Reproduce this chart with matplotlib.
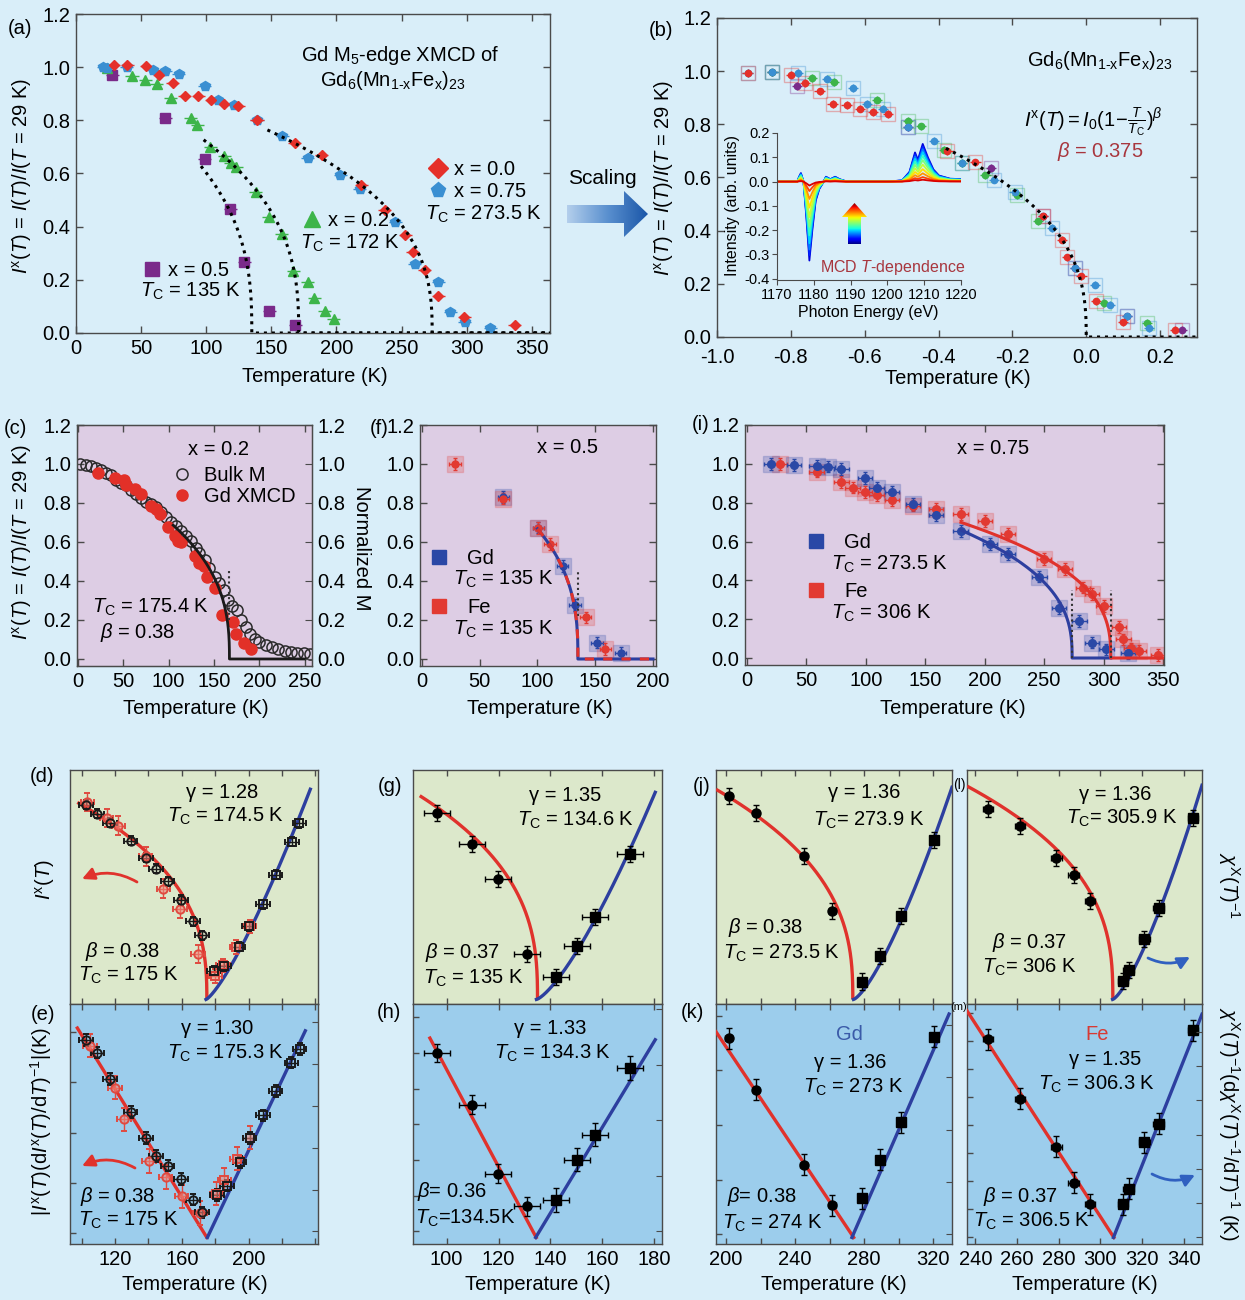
import numpy as np
import matplotlib
matplotlib.use("Agg")
import matplotlib.pyplot as plt
from matplotlib.lines import Line2D
from matplotlib.patches import Polygon
from matplotlib.colors import LinearSegmentedColormap

plt.rcParams['font.family'] = ['Liberation Sans', 'DejaVu Sans']
plt.rcParams['mathtext.fontset'] = 'custom'
plt.rcParams['mathtext.rm'] = 'Liberation Sans'
plt.rcParams['mathtext.it'] = 'Liberation Sans:italic'
plt.rcParams['mathtext.bf'] = 'Liberation Sans:bold'
plt.rcParams['mathtext.sf'] = 'Liberation Sans'
plt.rcParams['axes.unicode_minus'] = False
FS = 14.5
plt.rcParams['font.size'] = FS

# ======================= DATA =======================
# (a) Gd M5-edge XMCD, I^x(T) vs T
a_T_x00 = [29, 39.5, 54, 63.9, 74.3, 83.6, 94, 103.9, 113.7, 124.4, 139, 168, 188.8, 219, 237, 252.7, 258.7, 267.7, 278, 298, 337]
a_I_x00 = [1.01, 1.01, 1.006, 0.97, 0.94, 0.893, 0.89, 0.877, 0.862, 0.855, 0.80, 0.714, 0.668, 0.556, 0.464, 0.37, 0.305, 0.236, 0.14, 0.06, 0.03]
a_T_x075 = [21, 24, 39, 59, 68.5, 79, 98.7, 108.8, 121, 139, 158.4, 178, 203, 218, 245, 260, 278, 287.5, 298.7, 318]
a_I_x075 = [1.0, 0.995, 1.0, 0.99, 0.987, 0.975, 0.93, 0.877, 0.858, 0.80, 0.74, 0.657, 0.595, 0.543, 0.417, 0.26, 0.19, 0.078, 0.041, 0.019]
a_T_x02 = [24, 43, 53, 62, 72.6, 88, 93, 103, 113.7, 119, 123, 138, 148, 158, 167, 178, 183, 191, 198]
a_I_x02 = [0.995, 0.965, 0.95, 0.936, 0.883, 0.808, 0.783, 0.70, 0.664, 0.64, 0.623, 0.529, 0.436, 0.372, 0.232, 0.19, 0.13, 0.081, 0.053]
a_T_x05 = [28, 68.5, 98.7, 118.4, 129.3, 148.5, 168.5]
a_I_x05 = [0.971, 0.81, 0.655, 0.466, 0.267, 0.081, 0.031]
# power-law fits (x=0.5, x=0.2, x=0.0/0.75)
a_fit_T0 = [96, 98, 147]
a_fit_Tc = [135, 171, 273.5]
a_fit_I0 = [1.0, 1.0, 1.02]
a_fit_beta = 0.375
a_xticks = [0, 50, 100, 150, 200, 250, 300, 350]
a_yticks = [0.0, 0.2, 0.4, 0.6, 0.8, 1.0, 1.2]

# (b) scaled data vs reduced temperature
b_t_red = [-0.917, -0.80, -0.761, -0.722, -0.687, -0.649, -0.613, -0.577, -0.537, -0.376, -0.30, -0.117, -0.066, -0.052, -0.013, 0.027, 0.10, 0.241]
b_I_red = [0.993, 0.987, 0.955, 0.924, 0.876, 0.873, 0.859, 0.846, 0.839, 0.70, 0.657, 0.454, 0.366, 0.30, 0.228, 0.134, 0.055, 0.028]
b_t_blue = [-0.917, -0.85, -0.78, -0.702, -0.631, -0.594, -0.551, -0.483, -0.412, -0.336, -0.25, -0.194, -0.093, -0.03, 0.023, 0.064, 0.111, 0.17]
b_I_blue = [0.993, 0.996, 0.993, 0.972, 0.937, 0.877, 0.859, 0.789, 0.739, 0.655, 0.592, 0.544, 0.41, 0.26, 0.197, 0.122, 0.078, 0.034]
b_t_green = [-0.85, -0.742, -0.683, -0.566, -0.483, -0.448, -0.385, -0.336, -0.273, -0.188, -0.131, 0.049, 0.164]
b_I_green = [0.996, 0.974, 0.959, 0.893, 0.814, 0.792, 0.705, 0.655, 0.608, 0.535, 0.435, 0.128, 0.053]
b_t_purple = [-0.85, -0.784, -0.483, -0.258, -0.117, -0.03, 0.111, 0.259]
b_I_purple = [0.996, 0.945, 0.789, 0.636, 0.454, 0.26, 0.078, 0.028]
b_fit_t0 = -0.38
b_fit_I0 = 1.02
b_fit_beta = 0.375
b_xticks = [-1.0, -0.8, -0.6, -0.4, -0.2, 0.0, 0.2]

# (b) inset: MCD spectrum (lowest T) and relative amplitudes of T-dependent spectra
sp_E = [1170, 1175.5, 1176.0, 1176.5, 1177.2, 1178.0, 1178.8, 1179.6, 1180.5, 1181.5, 1182.5, 1183.3, 1184.5, 1185.8, 1187.0, 1189.0, 1200.0, 1204.0, 1206.0, 1207.5, 1208.3, 1209.6, 1211.0, 1212.5, 1214.0, 1217.0, 1220.0]
sp_I = [0, 0, 0.02, 0.035, 0.0, -0.15, -0.325, -0.2, -0.08, -0.03, -0.005, 0.02, 0.01, 0.02, 0.01, 0, 0, 0.005, 0.04, 0.12, 0.09, 0.155, 0.10, 0.05, 0.025, 0.012, 0.01]
sp_amp = [1.0, 0.93, 0.86, 0.78, 0.68, 0.57, 0.45, 0.33, 0.22, 0.12, 0.05]
sp_xticks = [1170, 1180, 1190, 1200, 1210, 1220]
sp_yticks = [-0.4, -0.3, -0.2, -0.1, 0.0, 0.1, 0.2]

# (c) x = 0.2 : bulk M and Gd XMCD
c_T_bulk = [2, 8.5, 14.7, 20, 25.7, 31, 36.8, 42, 48, 53, 59, 64, 70, 75, 81, 86, 92, 97, 103, 108, 114, 119.5, 125, 130.5, 134, 140, 144.5, 150.7, 156, 160.7, 165.4, 170, 175, 180, 185, 190, 195, 200, 207, 214, 221, 228, 235, 242, 249, 256]
c_M_bulk = [1.0, 0.997, 0.988, 0.98, 0.97, 0.953, 0.944, 0.92, 0.904, 0.89, 0.866, 0.845, 0.828, 0.805, 0.797, 0.78, 0.753, 0.727, 0.704, 0.683, 0.657, 0.631, 0.605, 0.57, 0.541, 0.51, 0.466, 0.422, 0.388, 0.353, 0.30, 0.27, 0.25, 0.20, 0.165, 0.13, 0.10, 0.085, 0.07, 0.06, 0.05, 0.04, 0.035, 0.032, 0.03, 0.028]
c_T_xmcd = [22, 40.4, 50.4, 52.6, 62.5, 70, 81, 85.7, 90, 99, 106.6, 110.3, 114, 128.7, 134, 138.6, 142, 150.7, 159, 171, 174.6, 183, 191]
c_I_xmcd = [0.953, 0.93, 0.918, 0.892, 0.87, 0.845, 0.783, 0.77, 0.744, 0.675, 0.631, 0.605, 0.60, 0.527, 0.492, 0.475, 0.423, 0.362, 0.223, 0.188, 0.127, 0.083, 0.052]
c_fit = dict(T0=105, Tc=167, I0=1.0, beta=0.38, Tmax=250)
c_xticks = [0, 50, 100, 150, 200, 250]

# (f) x = 0.5 : Gd and Fe
f_T_gd = [70.5, 100.7, 121.7, 132.4, 151.7, 172]
f_I_gd = [0.832, 0.674, 0.476, 0.276, 0.084, 0.03]
f_T_fe = [28.8, 70.5, 100.7, 110.8, 141.6, 158.8]
f_I_fe = [1.0, 0.823, 0.67, 0.589, 0.213, 0.052]
f_fit = dict(T0=100, Tc=135, I0=1.1, beta=0.37, Tmax=200)
f_xticks = [0, 50, 100, 150, 200]

# (i) x = 0.75 : Gd and Fe
i_T_gd = [20.3, 39.4, 58.5, 68.2, 79.4, 99.4, 109, 122, 139.4, 159, 179.7, 204.5, 219.7, 246, 262.7, 279.7, 290, 302.4, 320.6]
i_I_gd = [1.0, 0.995, 0.99, 0.986, 0.974, 0.928, 0.876, 0.855, 0.794, 0.738, 0.654, 0.588, 0.537, 0.419, 0.258, 0.192, 0.079, 0.044, 0.026]
i_T_fe = [27.9, 58.5, 79.4, 88.8, 99.4, 109, 122, 139.4, 159, 179.7, 200, 219.7, 250, 267.3, 282.4, 290, 300, 313, 316.7, 323.3, 330, 345.5]
i_I_fe = [1.0, 0.96, 0.907, 0.878, 0.855, 0.838, 0.815, 0.785, 0.768, 0.742, 0.707, 0.64, 0.511, 0.457, 0.363, 0.328, 0.267, 0.16, 0.096, 0.049, 0.035, 0.014]
i_fit_gd = dict(T0=180, Tc=273.5, I0=0.99, beta=0.38, Tmax=306)
i_fit_fe = dict(T0=180, Tc=306, I0=0.97, beta=0.37, Tmax=350)
i_xticks = [0, 50, 100, 150, 200, 250, 300, 350]
cfi_yticks = [0.0, 0.2, 0.4, 0.6, 0.8, 1.0, 1.2]

# (d) x = 0.2 : I^x(T) (circles) and chi^-1 (squares), arbitrary units
d_T_bc = [102.6, 109.4, 117, 129.4, 138.6, 144.6, 151.6, 159.6, 166.6, 172]
d_y_bc = [0.849, 0.81, 0.771, 0.691, 0.617, 0.569, 0.514, 0.433, 0.34, 0.28]
d_T_rc = [103.4, 115, 122, 138.4, 149, 159, 169.6]
d_y_rc = [0.861, 0.79, 0.758, 0.623, 0.483, 0.396, 0.199]
d_T_bs = [179, 185.4, 194, 200, 208.6, 216.2, 226, 230.4]
d_y_bs = [0.126, 0.145, 0.229, 0.318, 0.414, 0.544, 0.687, 0.768]
d_T_rs = [180, 184.6, 192.6, 200.6]
d_y_rs = [0.103, 0.148, 0.229, 0.318]
# (e) Kouvel-Fisher, x = 0.2
e_T_bc = [102.6, 109.4, 117, 129.4, 138.6, 144.6, 151.6, 159.6, 166.6, 172]
e_y_bc = [0.847, 0.792, 0.68, 0.537, 0.427, 0.348, 0.308, 0.251, 0.162, 0.107]
e_T_rc = [105, 120, 125.4, 140.4, 150.4, 160, 171]
e_y_rc = [0.821, 0.642, 0.506, 0.327, 0.259, 0.176, 0.105]
e_T_bs = [181, 187, 194.6, 200.6, 208.6, 216.2, 225.6, 230.6]
e_y_bs = [0.183, 0.222, 0.322, 0.427, 0.523, 0.627, 0.749, 0.807]
e_T_rs = [180.6, 185.4, 193, 200.6]
e_y_rs = [0.188, 0.248, 0.337, 0.427]
# (g)/(h) x = 0.5
g_T_c = [96.5, 109.9, 119.9, 131.1]
g_y_c = [0.812, 0.679, 0.523, 0.199]
g_T_s = [142.2, 150.1, 157.2, 170.4]
g_y_s = [0.099, 0.231, 0.358, 0.635]
h_T_c = [96.5, 109.9, 119.9, 131.1]
h_y_c = [0.79, 0.569, 0.273, 0.133]
h_T_s = [142.2, 150.1, 157.2, 170.4]
h_y_s = [0.161, 0.333, 0.44, 0.726]
# (j)/(k) x = 0.75, Gd
j_T_c = [201.7, 217.4, 245.1, 261.7]
j_y_c = [0.887, 0.813, 0.626, 0.387]
j_T_s = [278.9, 289.5, 301.7, 320.4]
j_y_s = [0.078, 0.188, 0.365, 0.696]
k_T_c = [201.7, 217.4, 245.1, 261.7]
k_y_c = [0.853, 0.632, 0.311, 0.137]
k_T_s = [278.9, 289.5, 301.7, 320.4]
k_y_s = [0.169, 0.332, 0.494, 0.86]
# (l)/(m) x = 0.75, Fe
l_T_c = [246.1, 261.3, 278.9, 287.2, 294.9]
l_y_c = [0.831, 0.754, 0.615, 0.544, 0.431]
l_T_s = [310.9, 313.6, 321.1, 328, 344.5]
l_y_s = [0.081, 0.129, 0.265, 0.399, 0.791]
m_T_c = [246.1, 261.3, 278.9, 287.2, 294.9]
m_y_c = [0.848, 0.594, 0.389, 0.235, 0.142]
m_T_s = [310.9, 313.6, 321.1, 328, 344.5]
m_y_s = [0.142, 0.208, 0.408, 0.487, 0.887]

# fit parameters for lower panels: (T0, Tc, beta, A) power law / (Tc, gamma, B, Tend)
d_fit_beta = (97.4, 175.0, 0.38, 1.17); d_fit_gamma = (174.5, 1.28, 3.41, 237.0)
g_fit_beta = (89.7, 135.0, 0.37, 1.33); g_fit_gamma = (134.6, 1.35, 3.88, 180.3)
j_fit_beta = (194.2, 273.5, 0.38, 1.466); j_fit_gamma = (273.9, 1.36, 7.8, 331.0)
l_fit_beta = (236.0, 306.0, 0.37, 1.605); l_fit_gamma = (305.9, 1.36, 13.5, 348.8)
# Kouvel-Fisher lines: (T0, Tc, slope) below / (Tc, slope, Tend) above
e_kf_lo = (97.4, 175.0, 0.01156); e_kf_hi = (175.3, 0.01508, 234.0)
h_kf_lo = (93.6, 134.5, 0.02088); h_kf_hi = (134.3, 0.01841, 180.3)
k_kf_lo = (194.2, 274.0, 0.01104); k_kf_hi = (273.0, 0.0170, 329.3)
m_kf_lo = (236.0, 306.5, 0.01377); m_kf_hi = (306.3, 0.0225, 348.8)

# ======================= STYLE =======================
BG = '#d9eef9'
PURPLE_BG = '#ddcde4'
GREEN_BG = '#dce8cb'
BLUE_BG = '#9ccdec'
RED = '#e5302a'
BLUE_L = '#3a8fd2'
GREEN = '#3db54a'
PURP = '#7a2a8a'
GD_BLUE = '#2a48a6'
FE_RED = '#e23a32'
LINE_RED = '#e0322c'
LINE_BLUE = '#2d3f9f'
SPINE = '#4a4a4a'

W, H = 1245, 1300
fig = plt.figure(figsize=(W / 100, H / 100), dpi=100)
fig.patch.set_facecolor(BG)


def rect(l, t, r, b):
    return [l / W, 1 - b / H, (r - l) / W, (b - t) / H]


def crit_curve(T0, Tc, I0, beta, Tmax):
    dT = (Tc - T0) * np.geomspace(1, 1e-7, 500)
    T = np.concatenate([Tc - dT, [Tc, Tmax]])
    I = np.concatenate([I0 * (dT / Tc) ** beta, [0.0, 0.0]])
    return T, I


def style_ax(ax, fc='none', length=5):
    ax.set_facecolor(fc)
    for s in ax.spines.values():
        s.set_color(SPINE)
        s.set_linewidth(1.0)
    ax.tick_params(direction='in', top=True, right=True, length=length,
                   width=1, color=SPINE, labelsize=FS, pad=4)


# ----------------------- (a) -----------------------
ax = fig.add_axes(rect(76, 14, 550, 333))
style_ax(ax)
ax.set_xlim(0, 364)
ax.set_ylim(0, 1.2)
ax.set_xticks(a_xticks)
ax.set_yticks(a_yticks)
ax.set_yticklabels([f'{v:.1f}' for v in a_yticks])
series_a = [(a_T_x05, a_I_x05, PURP, 's', 6.5), (a_T_x02, a_I_x02, GREEN, '^', 6.5),
            (a_T_x075, a_I_x075, BLUE_L, 'p', 7), (a_T_x00, a_I_x00, RED, 'D', 5.5)]
for T, I, c, m, ms in series_a:
    ax.errorbar(T, I, xerr=5, yerr=0.012, fmt=m, color=c, ms=ms, mec=c,
                elinewidth=1.0, capsize=0, zorder=3)
for T0, Tc, I0 in zip(a_fit_T0, a_fit_Tc, a_fit_I0):
    Tf, If = crit_curve(T0, Tc, I0, a_fit_beta, 364)
    ax.plot(Tf, If, ls=(0, (1, 1.6)), color='black', lw=2.2, zorder=4)
h00 = Line2D([], [], marker='D', color=RED, ls='none', ms=10)
h075 = Line2D([], [], marker='p', color=BLUE_L, ls='none', ms=11)
h02 = Line2D([], [], marker='^', color=GREEN, ls='none', ms=11)
h05 = Line2D([], [], marker='s', color=PURP, ls='none', ms=10)
lkw = dict(frameon=False, handlelength=0.9, handletextpad=0.35, borderpad=0,
           borderaxespad=0, labelspacing=0.12, fontsize=FS, loc='center left')
l1 = ax.legend([h00, h075], ['x = 0.0', 'x = 0.75'], bbox_to_anchor=(0.744, 0.478), **lkw)
ax.add_artist(l1)
l2 = ax.legend([h02], ['x = 0.2'], bbox_to_anchor=(0.478, 0.354), **lkw)
ax.add_artist(l2)
l3 = ax.legend([h05], ['x = 0.5'], bbox_to_anchor=(0.142, 0.197), **lkw)
ax.text(0.736, 0.373, r'$T_{\mathrm{C}}$ = 273.5 K', transform=ax.transAxes, va='center', ha='left')
ax.text(0.473, 0.282, r'$T_{\mathrm{C}}$ = 172 K', transform=ax.transAxes, va='center', ha='left')
ax.text(0.135, 0.129, r'$T_{\mathrm{C}}$ = 135 K', transform=ax.transAxes, va='center', ha='left')
ax.text(0.684, 0.871, r'Gd M$_5$-edge XMCD of', transform=ax.transAxes, va='center', ha='center')
ax.text(0.669, 0.793, r'Gd$_6$(Mn$_{\mathrm{1\text{-}x}}$Fe$_{\mathrm{x}}$)$_{23}$', transform=ax.transAxes, va='center', ha='center')

# ----------------------- (b) -----------------------
ax = fig.add_axes(rect(717, 18, 1197, 337))
style_ax(ax)
ax.set_xlim(-1.0, 0.3)
ax.set_ylim(0, 1.2)
ax.set_xticks(b_xticks)
ax.set_xticklabels([f'{v:.1f}' for v in b_xticks])
ax.tick_params(axis='x', pad=8)
ax.set_yticks(a_yticks)
ax.set_yticklabels([f'{v:.1f}' for v in a_yticks])
for t, I, c in [(b_t_purple, b_I_purple, PURP), (b_t_green, b_I_green, GREEN),
                (b_t_blue, b_I_blue, BLUE_L), (b_t_red, b_I_red, RED)]:
    ax.plot(t, I, ls='none', marker='s', ms=10, mfc='none', mec=c, mew=1.0, alpha=0.35, zorder=2)
    ax.errorbar(t, I, xerr=0.014, yerr=0.014, fmt='o', color=c, ms=4.5, elinewidth=1.0, capsize=0, zorder=3)
tb = b_fit_t0 * np.geomspace(1, 1e-7, 500)
ax.plot(np.concatenate([tb, [0, 0.3]]),
        np.concatenate([b_fit_I0 * (-tb) ** b_fit_beta, [0, 0]]),
        ls=(0, (1, 1.6)), color='black', lw=2.2, zorder=4)
ax.text(0.798, 0.868, r'Gd$_6$(Mn$_{\mathrm{1\text{-}x}}$Fe$_{\mathrm{x}}$)$_{23}$', transform=ax.transAxes, va='center', ha='center')
ax.text(0.783, 0.674, r'$I^{\mathrm{x}}(T) = I_0(1\!-\!\frac{T}{T_{\mathrm{C}}})^{\beta}$', transform=ax.transAxes, va='center', ha='center')
ax.text(0.798, 0.58, r'$\beta$ = 0.375', transform=ax.transAxes, va='center', ha='center', color='#a8363e')

# inset
axi = fig.add_axes(rect(777, 133, 961, 280))
axi.set_facecolor('none')
for s in ['top', 'right']:
    axi.spines[s].set_visible(False)
for s in ['left', 'bottom']:
    axi.spines[s].set_color(SPINE)
axi.set_xlim(1170, 1220)
axi.set_ylim(-0.405, 0.2)
axi.set_xticks(sp_xticks)
axi.set_yticks(sp_yticks)
axi.set_yticklabels([f'{v:.1f}' for v in sp_yticks])
axi.tick_params(direction='out', length=3.5, labelsize=10.5, pad=2, color=SPINE)
sp_cols = plt.cm.jet(np.linspace(0.08, 0.92, len(sp_amp)))
for amp, col in zip(sp_amp, sp_cols):
    axi.plot(sp_E, np.array(sp_I) * amp, color=col, lw=1.3)
axi.text(0.63, 0.082, r'MCD $T$-dependence', transform=axi.transAxes, va='center', ha='center',
         color='#a8363e', fontsize=11.5)

# ----------------------- (c) -----------------------
ax = fig.add_axes(rect(77, 425, 312, 666))
style_ax(ax, PURPLE_BG)
ax.set_xlim(-1, 258)
ax.set_ylim(-0.036, 1.2)
ax.set_xticks(c_xticks)
ax.set_yticks(cfi_yticks)
ax.set_yticklabels([f'{v:.1f}' for v in cfi_yticks])
ax.tick_params(right=False)
hb, = ax.plot(c_T_bulk, c_M_bulk, ls='none', marker='o', ms=8, mfc='none', mec='#2a2a2a', mew=1.1, zorder=3)
hx, = ax.plot(c_T_xmcd, c_I_xmcd, ls='none', marker='o', ms=8, mfc='#e23028', mec='#e23028', zorder=3)
Tf, If = crit_curve(**c_fit)
ax.plot(Tf, If, color='#1a1a1a', lw=2.0, zorder=4)
ax.vlines(c_fit['Tc'], 0.2, 0.46, colors='#333333', linestyles=(0, (1, 1.5)), lw=1.5, zorder=4)
ax.legend([hb, hx], ['Bulk M', 'Gd XMCD'], frameon=False, handlelength=1.0, handletextpad=0.6,
          borderpad=0, borderaxespad=0, labelspacing=0.1, fontsize=FS,
          loc='center left', bbox_to_anchor=(0.405, 0.745))
ax.text(0.604, 0.9, 'x = 0.2', transform=ax.transAxes, va='center', ha='center')
ax.text(0.064, 0.245, r'$T_{\mathrm{C}}$ = 175.4 K', transform=ax.transAxes, va='center', ha='left')
ax.text(0.098, 0.141, r'$\beta$ = 0.38', transform=ax.transAxes, va='center', ha='left')
axr = ax.twinx()
axr.set_ylim(-0.036, 1.2)
axr.set_yticks(cfi_yticks)
axr.set_yticklabels([f'{v:.1f}' for v in cfi_yticks])
axr.tick_params(direction='in', length=5, color=SPINE, labelsize=FS, pad=4)
for s in axr.spines.values():
    s.set_color(SPINE)

# ----------------------- (f) -----------------------
hgd = Line2D([], [], marker='s', color=GD_BLUE, ls='none', ms=10)
hfe = Line2D([], [], marker='s', color=FE_RED, ls='none', ms=10)
lkw2 = dict(frameon=False, handlelength=0.7, handletextpad=1.05, borderpad=0,
            borderaxespad=0, fontsize=FS, loc='center left')

ax = fig.add_axes(rect(420, 425, 656, 666))
style_ax(ax, PURPLE_BG)
ax.set_xlim(-1.7, 202.6)
ax.set_ylim(-0.036, 1.2)
ax.set_xticks(f_xticks)
ax.set_yticks(cfi_yticks)
ax.set_yticklabels([f'{v:.1f}' for v in cfi_yticks])
for T, I, c in [(f_T_gd, f_I_gd, GD_BLUE), (f_T_fe, f_I_fe, FE_RED)]:
    ax.plot(T, I, ls='none', marker='s', ms=11, mfc=c, mec=c, alpha=0.22, zorder=2)
    ax.errorbar(T, I, xerr=5, yerr=0.03, fmt='o', color=c, ms=5, elinewidth=1.0, capsize=1.5, zorder=3)
Tf, If = crit_curve(**f_fit)
ax.plot(Tf, If, color=LINE_BLUE, lw=2.2, zorder=4)
ax.plot(Tf, If, color=LINE_RED, lw=2.2, ls=(0, (3, 3)), zorder=5)
ax.vlines(f_fit['Tc'], 0.22, 0.45, colors='#333333', linestyles=(0, (1, 1.5)), lw=1.5, zorder=4)
lg = ax.legend([hgd], ['Gd'], bbox_to_anchor=(0.051, 0.447), **lkw2)
ax.add_artist(lg)
ax.legend([hfe], ['Fe'], bbox_to_anchor=(0.051, 0.244), **lkw2)
ax.text(0.627, 0.905, 'x = 0.5', transform=ax.transAxes, va='center', ha='center')
ax.text(0.14, 0.36, r'$T_{\mathrm{C}}$ = 135 K', transform=ax.transAxes, va='center', ha='left')
ax.text(0.14, 0.153, r'$T_{\mathrm{C}}$ = 135 K', transform=ax.transAxes, va='center', ha='left')

# ----------------------- (i) -----------------------
ax = fig.add_axes(rect(745, 425, 1164, 665))
style_ax(ax, PURPLE_BG)
ax.set_xlim(-1.7, 350.8)
ax.set_ylim(-0.036, 1.2)
ax.set_xticks(i_xticks)
ax.set_yticks(cfi_yticks)
ax.set_yticklabels([f'{v:.1f}' for v in cfi_yticks])
for T, I, c in [(i_T_fe, i_I_fe, FE_RED), (i_T_gd, i_I_gd, GD_BLUE)]:
    ax.plot(T, I, ls='none', marker='s', ms=11, mfc=c, mec=c, alpha=0.22, zorder=2)
    ax.errorbar(T, I, xerr=6, yerr=0.03, fmt='o', color=c, ms=5.5, elinewidth=1.0, capsize=1.5, zorder=3)
for fit, c in [(i_fit_gd, LINE_BLUE), (i_fit_fe, LINE_RED)]:
    Tf, If = crit_curve(**fit)
    ax.plot(Tf, If, color=c, lw=2.2, zorder=4)
    ax.vlines(fit['Tc'], 0.0, 0.35, colors='#333333', linestyles=(0, (1, 1.5)), lw=1.5, zorder=4)
lg = ax.legend([hgd], ['Gd'], bbox_to_anchor=(0.153, 0.511), **lkw2)
ax.add_artist(lg)
ax.legend([hfe], ['Fe'], bbox_to_anchor=(0.153, 0.307), **lkw2)
ax.text(0.592, 0.904, 'x = 0.75', transform=ax.transAxes, va='center', ha='center')
ax.text(0.205, 0.418, r'$T_{\mathrm{C}}$ = 273.5 K', transform=ax.transAxes, va='center', ha='left')
ax.text(0.205, 0.216, r'$T_{\mathrm{C}}$ = 306 K', transform=ax.transAxes, va='center', ha='left')


# ----------------------- lower panels -----------------------
def lower_pair(l, r, xlim, xmajor, xminor):
    axt = fig.add_axes(rect(l, 770, r, 1004))
    axb = fig.add_axes(rect(l, 1004, r, 1244))
    for a, fc in [(axt, GREEN_BG), (axb, BLUE_BG)]:
        style_ax(a, fc, length=4)
        a.set_xlim(*xlim)
        a.set_xticks(xmajor)
        a.set_xticks(xminor, minor=True)
        a.tick_params(which='minor', direction='in', top=True, length=4, width=1, color=SPINE)
        a.set_yticks([])
    axt.tick_params(labelbottom=False)
    axt.set_ylim(-0.02, 1.0)
    axb.set_ylim(-0.028, 1.0)
    return axt, axb


def draw_top(ax, fb, fg):
    T0, Tc, beta, A = fb
    Tf, If = crit_curve(T0, Tc, A, beta, Tc)
    ax.plot(Tf[:-1], If[:-1], color=LINE_RED, lw=2.4, zorder=4, solid_capstyle='butt')
    Tcg, gam, B, Tend = fg
    Tg = np.linspace(Tcg, Tend, 300)
    ax.plot(Tg, B * (Tg / Tcg - 1) ** gam, color=LINE_BLUE, lw=2.4, zorder=4)


def draw_kf(ax, lo, hi):
    T0, Tc, a = lo
    ax.plot([T0, Tc], [a * (Tc - T0), 0], color=LINE_RED, lw=2.4, zorder=4)
    Tch, b, Tend = hi
    ax.plot([Tch, Tend], [0, b * (Tend - Tch)], color=LINE_BLUE, lw=2.4, zorder=4)


def filled_pts(ax, T, y, m, xerr, yerr):
    ax.errorbar(T, y, xerr=xerr, yerr=yerr, fmt=m, color='black', ms=6.5,
                elinewidth=1.0, capsize=2, capthick=1.0, zorder=5)


def open_pts(ax, T, y, m, c, xerr, yerr, fill=None):
    ax.errorbar(T, y, xerr=xerr, yerr=yerr, fmt=m, color=c, ms=6, mfc=fill if fill else 'none',
                mec=c, mew=1.4, elinewidth=1.0, capsize=2, capthick=1.0, zorder=5)


def right_ticks(ax, start, step):
    tw = ax.twinx()
    tw.set_ylim(ax.get_ylim())
    tw.set_yticks(np.arange(start, 1.0, step))
    tw.tick_params(direction='in', length=4, color=SPINE, labelright=False)
    for s in tw.spines.values():
        s.set_visible(False)


RED_FILL = (0.95, 0.55, 0.5, 0.55)

# (d)/(e)
axt, axb = lower_pair(70, 318, (93, 241.6), [120, 160, 200], [100, 140, 180, 220, 240])
draw_top(axt, d_fit_beta, d_fit_gamma)
open_pts(axt, d_T_rc, d_y_rc, 'o', '#e04a40', 4, 0.04, RED_FILL)
open_pts(axt, d_T_bc, d_y_bc, 'o', '#1a1a1a', 4, 0.02)
open_pts(axt, d_T_rs, d_y_rs, 's', '#e04a40', 4, 0.03, RED_FILL)
open_pts(axt, d_T_bs, d_y_bs, 's', '#1a1a1a', 4, 0.02)
draw_kf(axb, e_kf_lo, e_kf_hi)
open_pts(axb, e_T_rc, e_y_rc, 'o', '#e04a40', 4, 0.05, RED_FILL)
open_pts(axb, e_T_bc, e_y_bc, 'o', '#1a1a1a', 4, 0.025)
open_pts(axb, e_T_rs, e_y_rs, 's', '#e04a40', 4, 0.05, RED_FILL)
open_pts(axb, e_T_bs, e_y_bs, 's', '#1a1a1a', 4, 0.025)
axb.set_yticks(np.arange(0.019, 1.0, 0.215))
axb.tick_params(axis='y', labelleft=False)
right_ticks(axb, 0.026, 0.179)
axt.text(0.613, 0.902, 'γ = 1.28', transform=axt.transAxes, ha='center', va='center')
axt.text(0.629, 0.803, r'$T_{\mathrm{C}}$ = 174.5 K', transform=axt.transAxes, ha='center', va='center')
axt.text(0.06, 0.226, r'$\beta$ = 0.38', transform=axt.transAxes, ha='left', va='center')
axt.text(0.032, 0.124, r'$T_{\mathrm{C}}$ = 175 K', transform=axt.transAxes, ha='left', va='center')
axb.text(0.593, 0.896, 'γ = 1.30', transform=axb.transAxes, ha='center', va='center')
axb.text(0.629, 0.796, r'$T_{\mathrm{C}}$ = 175.3 K', transform=axb.transAxes, ha='center', va='center')
axb.text(0.04, 0.196, r'$\beta$ = 0.38', transform=axb.transAxes, ha='left', va='center')
axb.text(0.032, 0.1, r'$T_{\mathrm{C}}$ = 175 K', transform=axb.transAxes, ha='left', va='center')

# (g)/(h)
axt, axb = lower_pair(413, 662, (87.1, 182.9), [100, 120, 140, 160, 180], [])
draw_top(axt, g_fit_beta, g_fit_gamma)
filled_pts(axt, g_T_c, g_y_c, 'o', 5, 0.035)
filled_pts(axt, g_T_s, g_y_s, 's', 5, 0.035)
draw_kf(axb, h_kf_lo, h_kf_hi)
filled_pts(axb, h_T_c, h_y_c, 'o', 5, 0.04)
filled_pts(axb, h_T_s, h_y_s, 's', 5, 0.05)
axb.set_yticks(np.arange(0.026, 1.0, 0.153))
axb.tick_params(axis='y', labelleft=False)
right_ticks(axb, 0.026, 0.238)
axt.text(0.61, 0.889, 'γ = 1.35', transform=axt.transAxes, ha='center', va='center')
axt.text(0.651, 0.786, r'$T_{\mathrm{C}}$ = 134.6 K', transform=axt.transAxes, ha='center', va='center')
axt.text(0.048, 0.218, r'$\beta$ = 0.37', transform=axt.transAxes, ha='left', va='center')
axt.text(0.04, 0.111, r'$T_{\mathrm{C}}$ = 135 K', transform=axt.transAxes, ha='left', va='center')
axb.text(0.55, 0.9, 'γ = 1.33', transform=axb.transAxes, ha='center', va='center')
axb.text(0.562, 0.796, r'$T_{\mathrm{C}}$ = 134.3 K', transform=axb.transAxes, ha='center', va='center')
axb.text(0.016, 0.217, r'$\beta$= 0.36', transform=axb.transAxes, ha='left', va='center')
axb.text(0.008, 0.108, r'$T_{\mathrm{C}}$=134.5K', transform=axb.transAxes, ha='left', va='center')

# (j)/(k)
axt, axb = lower_pair(716, 952, (194.2, 331), [200, 240, 280, 320], [220, 260, 300])
draw_top(axt, j_fit_beta, j_fit_gamma)
filled_pts(axt, j_T_c, j_y_c, 'o', 2, 0.035)
filled_pts(axt, j_T_s, j_y_s, 's', 2, 0.035)
draw_kf(axb, k_kf_lo, k_kf_hi)
filled_pts(axb, k_T_c, k_y_c, 'o', 2, 0.045)
filled_pts(axb, k_T_s, k_y_s, 's', 2, 0.045)
axb.set_yticks(np.arange(0.014, 1.0, 0.234))
axb.tick_params(axis='y', labelleft=False)
right_ticks(axb, 0.014, 0.224)
axt.text(0.627, 0.902, 'γ = 1.36', transform=axt.transAxes, ha='center', va='center')
axt.text(0.648, 0.786, r'$T_{\mathrm{C}}$= 273.9 K', transform=axt.transAxes, ha='center', va='center')
axt.text(0.051, 0.329, r'$\beta$ = 0.38', transform=axt.transAxes, ha='left', va='center')
axt.text(0.03, 0.218, r'$T_{\mathrm{C}}$ = 273.5 K', transform=axt.transAxes, ha='left', va='center')
axb.text(0.564, 0.875, 'Gd', transform=axb.transAxes, ha='center', va='center', color='#3a5aa8')
axb.text(0.568, 0.758, 'γ = 1.36', transform=axb.transAxes, ha='center', va='center')
axb.text(0.581, 0.654, r'$T_{\mathrm{C}}$ = 273 K', transform=axb.transAxes, ha='center', va='center')
axb.text(0.047, 0.196, r'$\beta$= 0.38', transform=axb.transAxes, ha='left', va='center')
axb.text(0.025, 0.088, r'$T_{\mathrm{C}}$ = 274 K', transform=axb.transAxes, ha='left', va='center')

# (l)/(m)
axt, axb = lower_pair(967, 1202, (236, 348.8), [240, 260, 280, 300, 320, 340], [])
draw_top(axt, l_fit_beta, l_fit_gamma)
filled_pts(axt, l_T_c, l_y_c, 'o', 2.5, 0.035)
filled_pts(axt, l_T_s, l_y_s, 's', 2.5, 0.035)
draw_kf(axb, m_kf_lo, m_kf_hi)
filled_pts(axb, m_T_c, m_y_c, 'o', 2.5, 0.045)
filled_pts(axb, m_T_s, m_y_s, 's', 2.5, 0.045)
axb.set_yticks(np.arange(0.0, 1.0, 0.12))
axb.tick_params(axis='y', labelleft=False)
right_ticks(axb, 0.0, 0.147)
axt.text(0.63, 0.897, 'γ = 1.36', transform=axt.transAxes, ha='center', va='center')
axt.text(0.66, 0.795, r'$T_{\mathrm{C}}$= 305.9 K', transform=axt.transAxes, ha='center', va='center')
axt.text(0.106, 0.261, r'$\beta$ = 0.37', transform=axt.transAxes, ha='left', va='center')
axt.text(0.064, 0.158, r'$T_{\mathrm{C}}$= 306 K', transform=axt.transAxes, ha='left', va='center')
axb.text(0.553, 0.875, 'Fe', transform=axb.transAxes, ha='center', va='center', color='#d83a34')
axb.text(0.587, 0.767, 'γ = 1.35', transform=axb.transAxes, ha='center', va='center')
axb.text(0.553, 0.667, r'$T_{\mathrm{C}}$ = 306.3 K', transform=axb.transAxes, ha='center', va='center')
axb.text(0.068, 0.196, r'$\beta$ = 0.37', transform=axb.transAxes, ha='left', va='center')
axb.text(0.026, 0.096, r'$T_{\mathrm{C}}$ = 306.5 K', transform=axb.transAxes, ha='left', va='center')

# ----------------------- overlay: labels & arrows -----------------------
ov = fig.add_axes([0, 0, 1, 1])
ov.set_facecolor('none')
ov.axis('off')


def grad_poly(pts, cmap, x0, x1, y0, y1, vertical=False):
    poly = Polygon(pts, closed=True, fc='none', ec='none', transform=ov.transData)
    ov.add_patch(poly)
    if vertical:
        g = np.linspace(1, 0, 256).reshape(-1, 1)
    else:
        g = np.linspace(0, 1, 256).reshape(1, -1)
    im = ov.imshow(g, cmap=cmap, extent=[x0, x1, y1, y0], aspect='auto', zorder=6, interpolation='bilinear')
    im.set_clip_path(poly)


cm_scal = LinearSegmentedColormap.from_list('scal', ['#b4cfec', '#5a90cf', '#1a56a8'])
grad_poly([(567, 205), (624, 205), (624, 191), (648, 214), (624, 237), (624, 223), (567, 223)],
          cm_scal, 567, 648, 191, 237)
grad_poly([(848, 244), (848, 217), (842, 217), (854.5, 203), (867, 217), (861, 217), (861, 244)],
          plt.cm.jet, 842, 867, 203, 244, vertical=True)
ov.set_xlim(0, W)
ov.set_ylim(H, 0)

ov.text(602, 178, 'Scaling', ha='center', va='center', fontsize=15)

for s, x, y in [('(a)', 20, 28), ('(b)', 661, 30), ('(c)', 15, 428), ('(f)', 379, 429),
                ('(i)', 701, 425), ('(d)', 42, 776), ('(e)', 43, 1015), ('(g)', 390, 786),
                ('(h)', 389, 1013), ('(j)', 702, 786), ('(k)', 692, 1013)]:
    ov.text(x, y, s, ha='center', va='center', fontsize=FS)
ov.text(959, 785, '(l)', ha='center', va='center', fontsize=10)
ov.text(959, 1007, '(m)', ha='center', va='center', fontsize=8)

ylab = r'$I^{\mathrm{x}}(T)$ = $I(T)/I(T$ = 29 K)'
ov.text(22, 176, ylab, rotation=90, ha='center', va='center')
ov.text(664, 178, ylab, rotation=90, ha='center', va='center')
ov.text(22, 542, ylab, rotation=90, ha='center', va='center')
ov.text(362, 548, 'Normalized M', rotation=270, ha='center', va='center')
ov.text(45, 880, r'$I^{\mathrm{x}}(T)$', rotation=90, ha='center', va='center')
ov.text(41, 1122, r'$|I^{\mathrm{x}}(T)(\mathrm{d}I^{\mathrm{x}}(T)/\mathrm{d}T)^{-1}|$(K)', rotation=90, ha='center', va='center')
ov.text(1229, 885, r'$\chi^{\mathrm{X}}(T)^{-1}$', rotation=270, ha='center', va='center')
ov.text(1229, 1124, r'$\chi^{\mathrm{X}}(T)^{-1}(\mathrm{d}\chi^{\mathrm{X}}(T)^{-1}/\mathrm{d}T)^{-1}$ (K)', rotation=270, ha='center', va='center')
ov.text(733, 206, 'Intensity (arb. units)', rotation=90, ha='center', va='center', fontsize=11.5)
ov.text(868, 313, 'Photon Energy (eV)', ha='center', va='center', fontsize=11.5)

for x, y in [(315, 376), (958, 378), (196, 708), (540, 708), (953, 708),
             (195, 1284), (538, 1284), (834, 1284), (1085, 1284)]:
    ov.text(x, y, 'Temperature (K)', ha='center', va='center')

akw = dict(arrowstyle='-|>,head_length=0.5,head_width=0.25', lw=2.0, shrinkA=0, shrinkB=0)
ov.annotate('', xy=(82, 879), xytext=(137, 882),
            arrowprops=dict(color=LINE_RED, connectionstyle='arc3,rad=0.25', **akw))
ov.annotate('', xy=(82, 1166), xytext=(135, 1168),
            arrowprops=dict(color=LINE_RED, connectionstyle='arc3,rad=0.25', **akw))
ov.annotate('', xy=(1190, 957), xytext=(1148, 958),
            arrowprops=dict(color='#3060c0', connectionstyle='arc3,rad=0.25', **akw))
ov.annotate('', xy=(1195, 1175), xytext=(1152, 1174),
            arrowprops=dict(color='#3060c0', connectionstyle='arc3,rad=0.25', **akw))

fig.savefig('out.png', dpi=100, facecolor=BG)
